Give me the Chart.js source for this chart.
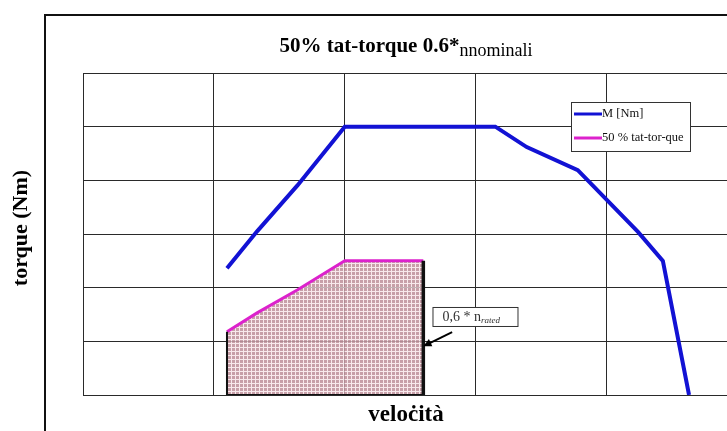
<!DOCTYPE html>
<html>
<head>
<meta charset="utf-8">
<script src="https://cdn.jsdelivr.net/npm/chart.js@4.4.0/dist/chart.umd.min.js"></script>
<style>
  html, body { margin: 0; padding: 0; background: #fff; overflow: hidden; }
  #wrap { width: 727px; height: 431px; }
</style>
</head>
<body>
<div id="wrap"><canvas id="grafico"></canvas></div>
<script>
// Curva di coppia M [Nm] (assi in divisioni di griglia)
const velocita = [1.10, 1.33, 1.64, 2.00, 3.15, 3.39, 3.78, 4.24, 4.43, 4.63];
const coppiaM = [2.36, 3.05, 3.91, 5.00, 5.00, 4.62, 4.19, 3.04, 2.50, 0];

// 50% tat-torque fino a 0,6 * n rated
const velocitaTat = [1.10, 1.33, 1.64, 2.00, 2.60];
const coppiaTat = [1.18, 1.53, 1.96, 2.50, 2.50];

// contorno dell'area tratteggiata
const velocitaContorno = [1.10, 1.10, 2.60, 2.60];
const coppiaContorno = [1.18, 0, 0, 2.50];

// freccia dell'etichetta 0,6 * n rated
const frecciaPunta = [2.60, 0.91];
const frecciaCoda = [2.82, 1.17];

const etichette = ['M [Nm]', '50 % tat-tor-que'];
const titolo = '50% tat-torque 0.6*';
const titoloPedice = 'nnominali';

const serif = '"Liberation Serif", "DejaVu Serif", serif';

function creaPattern() {
    const pc = document.createElement('canvas');
    pc.width = 4;
    pc.height = 4;
    const p = pc.getContext('2d');
    p.fillStyle = 'rgba(245, 225, 229, 0.75)';
    p.fillRect(0, 0, 4, 4);
    p.fillStyle = 'rgba(165, 110, 122, 0.6)';
    p.fillRect(0, 0, 3, 3);
    return p.createPattern(pc, 'repeat');
}

function punti(xs, ys) {
    return xs.map((x, i) => ({ x: x, y: ys[i] }));
}

// disegna cornice, titoli, legenda ed etichetta
const decorazioni = {
    id: 'decorazioni',
    afterDraw(chart) {
        const ctx = chart.ctx;
        const sx = chart.scales.x;
        const sy = chart.scales.y;
        const centro = 406;
        ctx.save();

        // cornice esterna
        ctx.strokeStyle = '#111';
        ctx.lineWidth = 2;
        ctx.beginPath();
        ctx.moveTo(45, 431);
        ctx.lineTo(45, 15);
        ctx.lineTo(727, 15);
        ctx.stroke();

        // titolo con pedice
        ctx.fillStyle = '#000';
        ctx.textBaseline = 'alphabetic';
        ctx.font = 'bold 21px ' + serif;
        const w1 = ctx.measureText(titolo).width;
        ctx.font = '18px ' + serif;
        const w2 = ctx.measureText(titoloPedice).width;
        const tx = centro - (w1 + w2) / 2;
        ctx.font = 'bold 21px ' + serif;
        ctx.fillText(titolo, tx, 52);
        ctx.font = '18px ' + serif;
        ctx.fillText(titoloPedice, tx + w1, 56);

        // titoli assi
        ctx.font = 'bold 23px ' + serif;
        ctx.textAlign = 'center';
        ctx.fillText('veloċità', centro, 421);
        ctx.save();
        ctx.translate(27, 228);
        ctx.rotate(-Math.PI / 2);
        ctx.font = 'bold 22px ' + serif;
        ctx.fillText('torque (Nm)', 0, 0);
        ctx.restore();

        // legenda
        const lx = 571, ly = 102;
        ctx.fillStyle = '#fff';
        ctx.fillRect(lx, ly, 119, 49);
        ctx.strokeStyle = '#333';
        ctx.lineWidth = 1;
        ctx.strokeRect(lx + 0.5, ly + 0.5, 119, 49);
        chart.data.datasets.forEach((ds) => {
            const idx = etichette.indexOf(ds.label);
            if (idx < 0) return;
            const yy = ly + 12 + idx * 24;
            ctx.strokeStyle = ds.borderColor;
            ctx.lineWidth = 3;
            ctx.beginPath();
            ctx.moveTo(lx + 3, yy);
            ctx.lineTo(lx + 31, yy);
            ctx.stroke();
            ctx.fillStyle = '#111';
            ctx.font = '12.5px ' + serif;
            ctx.textAlign = 'left';
            ctx.textBaseline = 'middle';
            ctx.fillText(ds.label, lx + 31, yy);
        });

        // etichetta 0,6 * n rated
        const bx = sx.getPixelForValue(2.67);
        const by = sy.getPixelForValue(1.64);
        ctx.fillStyle = '#fff';
        ctx.fillRect(bx, by, 85, 19);
        ctx.strokeStyle = '#333';
        ctx.lineWidth = 1;
        ctx.strokeRect(bx + 0.5, by + 0.5, 85, 19);
        ctx.fillStyle = '#333';
        ctx.textBaseline = 'alphabetic';
        ctx.textAlign = 'left';
        ctx.font = '14px ' + serif;
        const t1 = '0,6 * n';
        ctx.fillText(t1, bx + 10, by + 14);
        const tw = ctx.measureText(t1).width;
        ctx.font = 'italic 9px ' + serif;
        ctx.fillText('rated', bx + 10 + tw, by + 16);

        // freccia
        const px = sx.getPixelForValue(frecciaPunta[0]);
        const py = sy.getPixelForValue(frecciaPunta[1]);
        const qx = sx.getPixelForValue(frecciaCoda[0]);
        const qy = sy.getPixelForValue(frecciaCoda[1]);
        const ang = Math.atan2(py - qy, px - qx);
        ctx.strokeStyle = '#000';
        ctx.lineWidth = 2;
        ctx.beginPath();
        ctx.moveTo(qx, qy);
        ctx.lineTo(px - 6 * Math.cos(ang), py - 6 * Math.sin(ang));
        ctx.stroke();
        ctx.fillStyle = '#000';
        ctx.beginPath();
        ctx.moveTo(px, py);
        ctx.lineTo(px - 9 * Math.cos(ang - 0.45), py - 9 * Math.sin(ang - 0.45));
        ctx.lineTo(px - 9 * Math.cos(ang + 0.45), py - 9 * Math.sin(ang + 0.45));
        ctx.closePath();
        ctx.fill();

        ctx.restore();
    }
};

const ctx = document.getElementById('grafico').getContext('2d');

new Chart(ctx, {
    type: 'line',
    data: {
        datasets: [
            {
                label: 'contorno',
                data: punti(velocitaContorno, coppiaContorno),
                borderColor: '#111',
                borderWidth: 2,
                segment: {
                    // lato destro (0,6 * n rated) piÃ¹ spesso
                    borderWidth: c => c.p0DataIndex === 2 ? 3.5 : 2
                },
                pointRadius: 0,
                fill: false
            },
            {
                label: etichette[1],
                data: punti(velocitaTat, coppiaTat),
                borderColor: '#dc22cc',
                backgroundColor: creaPattern(),
                borderWidth: 3,
                pointRadius: 0,
                fill: 'origin'
            },
            {
                label: etichette[0],
                data: punti(velocita, coppiaM),
                borderColor: '#1212d4',
                borderWidth: 4,
                pointRadius: 0,
                fill: false
            }
        ]
    },
    options: {
        responsive: true,
        maintainAspectRatio: false,
        animation: false,
        layout: {
            padding: { left: 83, top: 73, right: 0, bottom: 36 }
        },
        plugins: {
            legend: { display: false },
            title: { display: false },
            tooltip: { enabled: false }
        },
        scales: {
            x: {
                type: 'linear',
                min: 0,
                max: 4.92,
                afterBuildTicks: (scale) => {
                    scale.ticks = scale.ticks.filter(t => Number.isInteger(t.value));
                },
                ticks: { stepSize: 1, display: false },
                grid: { color: '#2a2a2a', lineWidth: 1, drawTicks: false },
                border: { display: false }
            },
            y: {
                min: 0,
                max: 6,
                ticks: { stepSize: 1, display: false },
                grid: { color: '#2a2a2a', lineWidth: 1, drawTicks: false },
                border: { display: false }
            }
        }
    },
    plugins: [decorazioni]
});
</script>
</body>
</html>
